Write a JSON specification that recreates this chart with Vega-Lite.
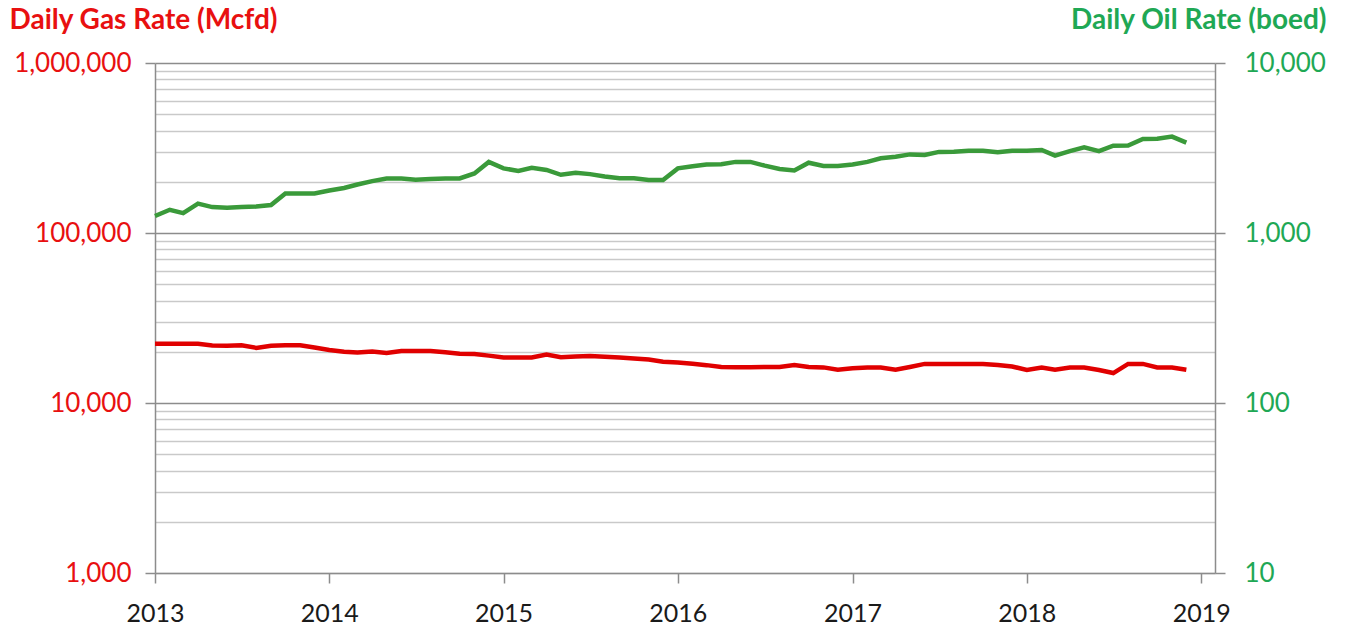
{
  "$schema": "https://vega.github.io/schema/vega-lite/v6.json",
  "width": 1060,
  "height": 510,
  "autosize": {"type": "none"},
  "padding": {"left": 155, "top": 63, "right": 132, "bottom": 56},
  "background": "white",
  "config": {
    "view": {"stroke": null},
    "font": "Lato"
  },
  "datasets": {
    "rates": [
      {"date": "2013-01-01", "gas": 22300, "oil": 1259},
      {"date": "2013-02-01", "gas": 22300, "oil": 1370},
      {"date": "2013-03-01", "gas": 22300, "oil": 1310},
      {"date": "2013-04-01", "gas": 22300, "oil": 1490},
      {"date": "2013-05-01", "gas": 21800, "oil": 1420},
      {"date": "2013-06-01", "gas": 21700, "oil": 1410},
      {"date": "2013-07-01", "gas": 21850, "oil": 1420},
      {"date": "2013-08-01", "gas": 21100, "oil": 1430},
      {"date": "2013-09-01", "gas": 21700, "oil": 1460},
      {"date": "2013-10-01", "gas": 21850, "oil": 1710},
      {"date": "2013-11-01", "gas": 21850, "oil": 1710},
      {"date": "2013-12-01", "gas": 21200, "oil": 1710},
      {"date": "2014-01-01", "gas": 20500, "oil": 1780},
      {"date": "2014-02-01", "gas": 20000, "oil": 1840},
      {"date": "2014-03-01", "gas": 19800, "oil": 1930},
      {"date": "2014-04-01", "gas": 20100, "oil": 2020},
      {"date": "2014-05-01", "gas": 19700, "oil": 2090},
      {"date": "2014-06-01", "gas": 20200, "oil": 2090},
      {"date": "2014-07-01", "gas": 20240, "oil": 2060},
      {"date": "2014-08-01", "gas": 20240, "oil": 2080},
      {"date": "2014-09-01", "gas": 19900, "oil": 2090},
      {"date": "2014-10-01", "gas": 19500, "oil": 2095},
      {"date": "2014-11-01", "gas": 19420, "oil": 2240},
      {"date": "2014-12-01", "gas": 19000, "oil": 2620},
      {"date": "2015-01-01", "gas": 18550, "oil": 2400},
      {"date": "2015-02-01", "gas": 18530, "oil": 2320},
      {"date": "2015-03-01", "gas": 18530, "oil": 2420},
      {"date": "2015-04-01", "gas": 19300, "oil": 2350},
      {"date": "2015-05-01", "gas": 18600, "oil": 2200},
      {"date": "2015-06-01", "gas": 18800, "oil": 2260},
      {"date": "2015-07-01", "gas": 18890, "oil": 2220},
      {"date": "2015-08-01", "gas": 18700, "oil": 2150},
      {"date": "2015-09-01", "gas": 18500, "oil": 2100},
      {"date": "2015-10-01", "gas": 18300, "oil": 2100},
      {"date": "2015-11-01", "gas": 18000, "oil": 2050},
      {"date": "2015-12-01", "gas": 17500, "oil": 2050},
      {"date": "2016-01-01", "gas": 17300, "oil": 2400},
      {"date": "2016-02-01", "gas": 17000, "oil": 2470},
      {"date": "2016-03-01", "gas": 16700, "oil": 2530},
      {"date": "2016-04-01", "gas": 16300, "oil": 2540},
      {"date": "2016-05-01", "gas": 16250, "oil": 2620},
      {"date": "2016-06-01", "gas": 16250, "oil": 2620},
      {"date": "2016-07-01", "gas": 16300, "oil": 2490},
      {"date": "2016-08-01", "gas": 16300, "oil": 2380},
      {"date": "2016-09-01", "gas": 16700, "oil": 2330},
      {"date": "2016-10-01", "gas": 16300, "oil": 2590},
      {"date": "2016-11-01", "gas": 16200, "oil": 2480},
      {"date": "2016-12-01", "gas": 15700, "oil": 2480},
      {"date": "2017-01-01", "gas": 16000, "oil": 2530},
      {"date": "2017-02-01", "gas": 16190, "oil": 2620},
      {"date": "2017-03-01", "gas": 16190, "oil": 2750},
      {"date": "2017-04-01", "gas": 15700, "oil": 2810},
      {"date": "2017-05-01", "gas": 16300, "oil": 2900},
      {"date": "2017-06-01", "gas": 16980, "oil": 2880},
      {"date": "2017-07-01", "gas": 16980, "oil": 3000},
      {"date": "2017-08-01", "gas": 16980, "oil": 3010},
      {"date": "2017-09-01", "gas": 16980, "oil": 3050},
      {"date": "2017-10-01", "gas": 16980, "oil": 3050},
      {"date": "2017-11-01", "gas": 16750, "oil": 2990},
      {"date": "2017-12-01", "gas": 16400, "oil": 3050},
      {"date": "2018-01-01", "gas": 15650, "oil": 3050},
      {"date": "2018-02-01", "gas": 16190, "oil": 3080},
      {"date": "2018-03-01", "gas": 15700, "oil": 2850},
      {"date": "2018-04-01", "gas": 16190, "oil": 3030},
      {"date": "2018-05-01", "gas": 16190, "oil": 3190},
      {"date": "2018-06-01", "gas": 15650, "oil": 3030},
      {"date": "2018-07-01", "gas": 15000, "oil": 3260},
      {"date": "2018-08-01", "gas": 16980, "oil": 3270},
      {"date": "2018-09-01", "gas": 16980, "oil": 3570},
      {"date": "2018-10-01", "gas": 16190, "oil": 3580},
      {"date": "2018-11-01", "gas": 16190, "oil": 3690},
      {"date": "2018-12-01", "gas": 15700, "oil": 3400}
    ]
  },
  "data": {"name": "rates"},
  "encoding": {
    "x": {
      "field": "date",
      "type": "temporal",
      "scale": {"type": "utc", "domain": [{"year": 2013, "month": 1, "date": 1, "utc": true}, {"year": 2019, "month": 1, "date": 30, "utc": true}]},
      "axis": {
        "title": null,
        "grid": false,
        "values": [
          {"year": 2013, "month": 1, "date": 1, "utc": true},
          {"year": 2014, "month": 1, "date": 1, "utc": true},
          {"year": 2015, "month": 1, "date": 1, "utc": true},
          {"year": 2016, "month": 1, "date": 1, "utc": true},
          {"year": 2017, "month": 1, "date": 1, "utc": true},
          {"year": 2018, "month": 1, "date": 1, "utc": true},
          {"year": 2019, "month": 1, "date": 1, "utc": true}
        ],
        "format": "%Y",
        "formatType": "utc",
        "labelFont": "Lato",
        "labelFontSize": 25,
        "labelColor": "#1a1a1a",
        "labelPadding": 18,
        "labelFlush": false,
        "labelOverlap": false,
        "tickSize": 10,
        "tickColor": "#8c8c8c",
        "tickWidth": 1.5,
        "domainColor": "#8c8c8c",
        "domainWidth": 1.5
      }
    }
  },
  "layer": [
    {
      "mark": {"type": "line", "color": "#E00000", "strokeWidth": 4.5, "interpolate": "linear"},
      "encoding": {
        "y": {
          "field": "gas",
          "type": "quantitative",
          "scale": {"type": "log", "domain": [1000, 1000000], "nice": false},
          "axis": {
            "orient": "left",
            "values": [1000, 2000, 3000, 4000, 5000, 6000, 7000, 8000, 9000, 10000, 20000, 30000, 40000, 50000, 60000, 70000, 80000, 90000, 100000, 200000, 300000, 400000, 500000, 600000, 700000, 800000, 900000, 1000000],
            "format": ",.0f",
            "labelExpr": "indexof([1000, 10000, 100000, 1000000], datum.value) >= 0 ? datum.label : ''",
            "labelFont": "Lato",
            "labelFontSize": 26,
            "labelColor": "#E81010",
            "labelPadding": 14,
            "tickSize": 10,
            "tickWidth": 1.5,
            "tickColor": {"condition": {"test": "indexof([1000, 10000, 100000, 1000000], datum.value) >= 0", "value": "#8c8c8c"}, "value": "rgba(0,0,0,0)"},
            "grid": true,
            "gridColor": {"condition": {"test": "indexof([10000, 100000, 1000000], datum.value) >= 0", "value": "#8c8c8c"}, "value": "#c9c9c9"},
            "gridWidth": 1.5,
            "domainColor": "#8c8c8c",
            "domainWidth": 1.5,
            "title": "Daily Gas Rate (Mcfd)",
            "titleAngle": 0,
            "titleAlign": "left",
            "titleBaseline": "middle",
            "titleX": -146,
            "titleY": -43,
            "titleFont": "Lato",
            "titleFontSize": 28,
            "titleFontWeight": "bold",
            "titleColor": "#E81010"
          }
        }
      }
    },
    {
      "mark": {"type": "line", "color": "#3A9A3A", "strokeWidth": 4.5, "interpolate": "linear"},
      "encoding": {
        "y": {
          "field": "oil",
          "type": "quantitative",
          "scale": {"type": "log", "domain": [10, 10000], "nice": false},
          "axis": {
            "orient": "right",
            "values": [10, 100, 1000, 10000],
            "format": ",.0f",
            "labelFont": "Lato",
            "labelFontSize": 26,
            "labelColor": "#1FA855",
            "labelPadding": 19,
            "tickSize": 10,
            "tickWidth": 1.5,
            "tickColor": "#8c8c8c",
            "grid": false,
            "domainColor": "#8c8c8c",
            "domainWidth": 1.5,
            "title": "Daily Oil Rate (boed)",
            "titleAngle": 0,
            "titleAlign": "right",
            "titleBaseline": "middle",
            "titleX": 111,
            "titleY": -43,
            "titleFont": "Lato",
            "titleFontSize": 28,
            "titleFontWeight": "bold",
            "titleColor": "#1FA855"
          }
        }
      }
    }
  ],
  "resolve": {"scale": {"y": "independent"}, "axis": {"y": "independent"}}
}
